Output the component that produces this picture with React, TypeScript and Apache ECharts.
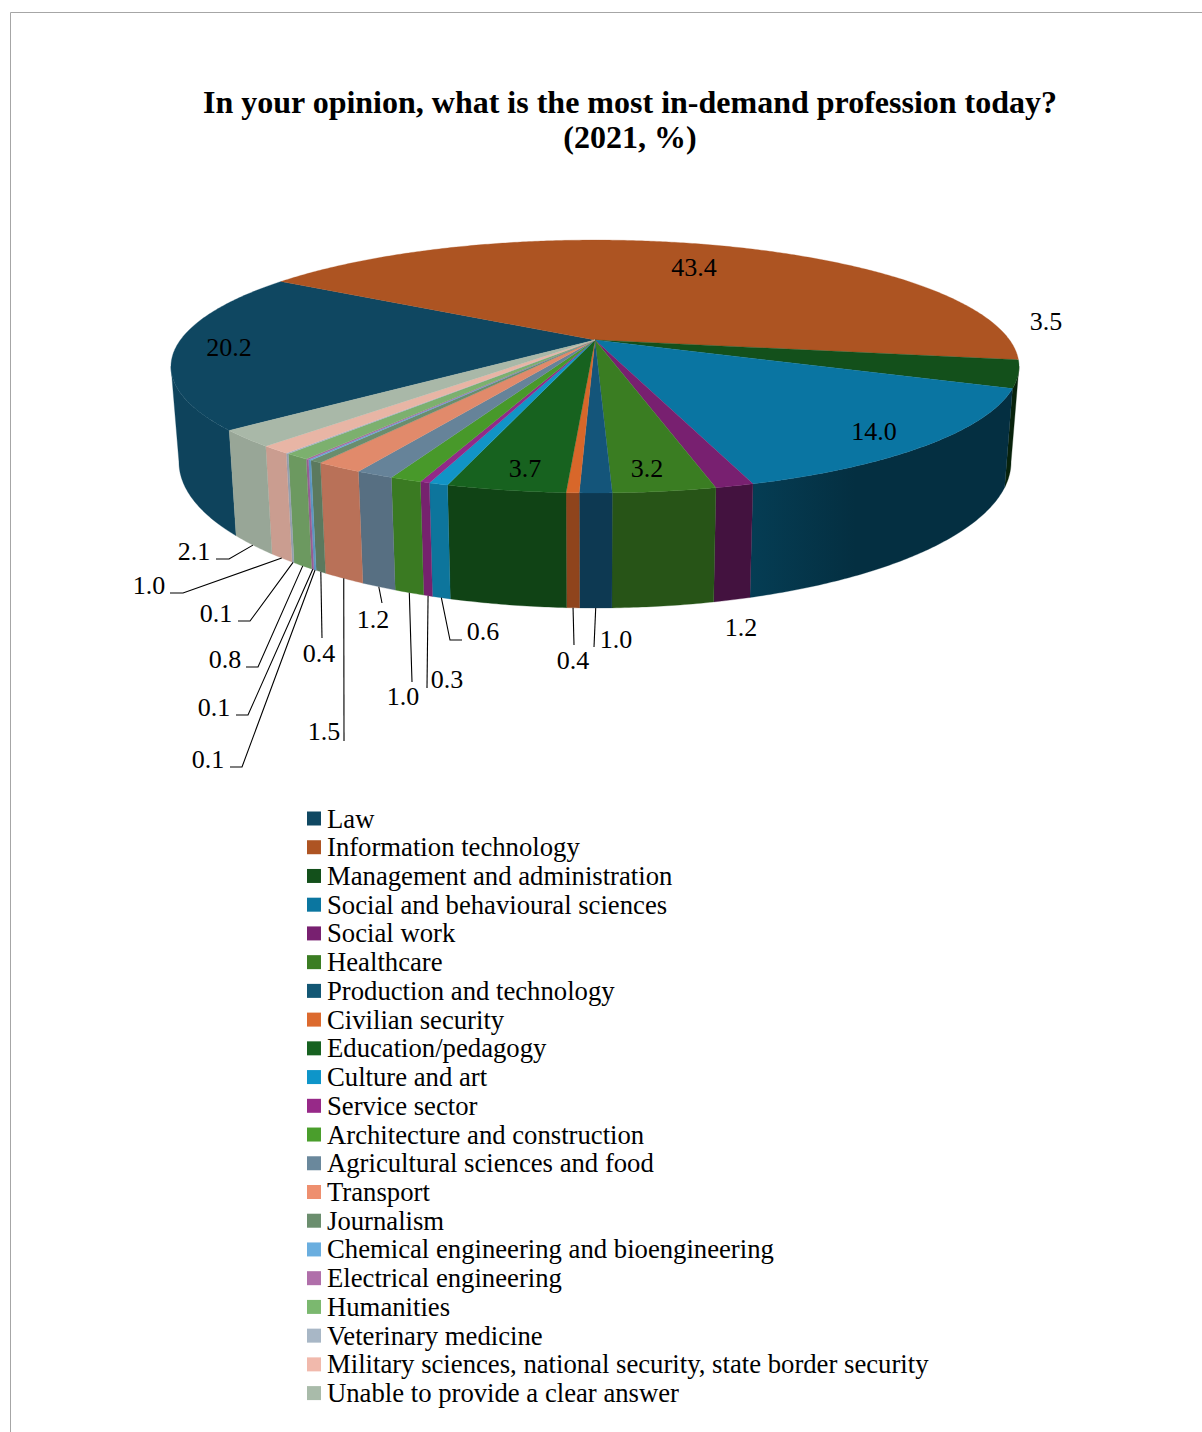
import React, { useEffect, useRef } from "react";
import * as echarts from "echarts";

const titleText = "In your opinion, what is the most in-demand profession today?\n(2021, %)";
const categories = [
  "Law", "Information technology", "Management and administration", "Social and behavioural sciences",
  "Social work", "Healthcare", "Production and technology", "Civilian security", "Education/pedagogy",
  "Culture and art", "Service sector", "Architecture and construction", "Agricultural sciences and food",
  "Transport", "Journalism", "Chemical engineering and bioengineering", "Electrical engineering",
  "Humanities", "Veterinary medicine", "Military sciences, national security, state border security",
  "Unable to provide a clear answer",
];
const values = [20.2, 43.4, 3.5, 14.0, 1.2, 3.2, 1.0, 0.4, 3.7, 0.6, 0.3, 1.0, 1.2, 1.5, 0.4, 0.1, 0.1, 0.8, 0.1, 1.0, 2.1];
const valueLabels = ["20.2", "43.4", "3.5", "14.0", "1.2", "3.2", "1.0", "0.4", "3.7", "0.6", "0.3", "1.0", "1.2", "1.5", "0.4", "0.1", "0.1", "0.8", "0.1", "1.0", "2.1"];
const legendColors = [
  "#104862", "#AE5423", "#13501B", "#0B76A0", "#782070", "#3B7D23", "#135774", "#DC6A2E", "#176221",
  "#0E95C9", "#972988", "#4A9E2C", "#6A889C", "#EE8F6F", "#6B8E6E", "#6AAEDF", "#B06FAA", "#7BB86F",
  "#A8B7C6", "#F1B9AC", "#A9BBAA",
];
const topColors = [
  "#0F4761", "#AD5422", "#13501B", "#0A75A2", "#782070", "#3A7D22", "#14557A", "#D8672A", "#17621F",
  "#1194C6", "#922A88", "#48992A", "#668399", "#E18A6B", "#6A8D6D", "#66A8D8", "#A868A4", "#7CB06E",
  "#A4B2C2", "#E8B5A5", "#A9B8A8",
];
// side-wall darkening of each slice at its left and right end on screen
const shadeLeft = [0.95, 0.5, 0.42, 0.52, 0.56, 0.67, 0.67, 0.66, 0.68, 0.79, 0.81, 0.8, 0.85, 0.82, 0.86, 0.9, 0.9, 0.87, 0.9, 0.87, 0.9];
const shadeRight = [0.95, 0.5, 0.42, 0.4, 0.56, 0.67, 0.67, 0.66, 0.68, 0.79, 0.81, 0.8, 0.85, 0.82, 0.86, 0.9, 0.9, 0.87, 0.9, 0.87, 0.9];

// label centres, and leader line vertices leading from the label towards its slice
const labelAt = [
  [229, 347.5], [694, 267.5], [1046, 321.5], [874, 431.5], [741, 627.5], [647, 468.5], [616, 639.5], [573, 660.5], [525, 468.5],
  [483, 631.5], [447, 679.5], [403, 696.5], [373, 619.5], [324, 731.5], [319, 653.5], [208, 759.5], [214, 707.5], [225, 659.5],
  [216, 613.5], [149, 585.5], [194, 551.5],
];
const leaders: (number[][] | null)[] = [
  null, null, null, null, null, null,
  [[594, 647]], [[574, 645]], null,
  [[462, 640], [450, 640]], [[427, 688]], [[412, 682]], [[382, 603]], [[344, 741]], [[322, 638]],
  [[230, 767], [242, 767]], [[236, 715], [248, 715]], [[246, 667], [258, 667]], [[238, 621], [250, 621]],
  [[170, 593], [183, 593]], [[216, 559], [229, 559]],
];

const FONT = "'Liberation Serif', 'Times New Roman', serif";
const FIRST_ANGLE = 229.7;
const K = 0.2095;
const CX = 595;
const TOP = { a: 414.6, b: 120.9, y0: 340 };
const BOTTOM = { a: 406.8, b: 139.6, y0: 431.4 };
const FRONT_START = 102;
const FRONT_END = 258;

const project = (deg: number, d: { a: number; b: number; y0: number }) => {
  const t = (deg * Math.PI) / 180;
  const u = Math.sin(t);
  const v = -Math.cos(t);
  const w = 1 - K * v;
  return [CX + (d.a * u) / w, d.y0 + (d.b * v) / w];
};
const arc = (from: number, to: number, d: { a: number; b: number; y0: number }) => {
  const pts: number[][] = [];
  const n = Math.max(1, Math.ceil((to - from) / 0.5));
  for (let i = 0; i <= n; i++) pts.push(project(from + ((to - from) * i) / n, d));
  return pts;
};
const shade = (hex: string, f: number) => {
  const n = parseInt(hex.slice(1), 16);
  const c = [(n >> 16) & 255, (n >> 8) & 255, n & 255].map((x) => Math.round(x * f));
  return `rgb(${c[0]},${c[1]},${c[2]})`;
};

const total = values.reduce((s, v) => s + v, 0);

const renderSlice = (i: number) => () => {
  const before = values.slice(0, i).reduce((s, v) => s + v, 0);
  const start = FIRST_ANGLE + (before / total) * 360;
  const end = start + (values[i] / total) * 360;
  const children: any[] = [];

  // side wall: only the part of the rim that faces the viewer
  for (const off of [0, 360, -360]) {
    const s = Math.max(start + off, FRONT_START);
    const e = Math.min(end + off, FRONT_END);
    if (e > s) {
      const pts = [...arc(s, e, TOP), ...arc(s, e, BOTTOM).reverse()];
      const isGrad = shadeLeft[i] !== shadeRight[i];
      const fill: any = isGrad
        ? new echarts.graphic.LinearGradient(0, 0, 1, 0, [
            { offset: 0, color: shade(topColors[i], shadeLeft[i]) },
            { offset: 0.4, color: shade(topColors[i], shadeRight[i]) },
            { offset: 1, color: shade(topColors[i], shadeRight[i]) },
          ])
        : shade(topColors[i], shadeLeft[i]);
      children.push({
        type: "polygon",
        z2: 1,
        shape: { points: pts },
        style: { fill, stroke: fill, lineWidth: 0.3 },
      });
    }
  }
  // top face
  children.push({
    type: "polygon",
    z2: 5,
    shape: { points: [[CX, TOP.y0], ...arc(start, end, TOP)] },
    style: { fill: topColors[i], stroke: topColors[i], lineWidth: 0.3 },
  });

  // leader line, ending on the rim below the slice's middle
  const lead = leaders[i];
  if (lead) {
    const rim = project((start + end) / 2, BOTTOM);
    children.push({
      type: "polyline",
      z2: 8,
      shape: { points: [...lead, rim] },
      style: { fill: "none", stroke: "#000", lineWidth: 1.1 },
    });
  }
  // value label
  children.push({
    type: "text",
    z2: 10,
    x: labelAt[i][0],
    y: labelAt[i][1],
    style: {
      text: valueLabels[i],
      fill: "#000",
      font: `26px ${FONT}`,
      align: "center",
      verticalAlign: "middle",
    },
  });
  return { type: "group", children };
};

export default function App() {
  const ref = useRef<HTMLDivElement>(null);
  useEffect(() => {
    const chart = echarts.init(ref.current!, undefined, { renderer: "svg" });
    chart.setOption({
      animation: false,
      backgroundColor: "#fff",
      color: legendColors,
      title: {
        text: titleText,
        left: 630,
        top: 84,
        textAlign: "center",
        padding: 0,
        textStyle: { fontFamily: FONT, fontWeight: "bold", fontSize: 32, lineHeight: 35, color: "#000" },
      },
      legend: {
        orient: "vertical",
        left: 307,
        top: 805,
        height: 620,
        padding: 0,
        icon: "rect",
        itemWidth: 14,
        itemHeight: 14,
        itemGap: 1.73,
        selectedMode: false,
        data: categories,
        textStyle: { fontFamily: FONT, fontSize: 26.7, color: "#000", padding: [0, 0, 0, 1] },
      },
      graphic: [
        { type: "line", shape: { x1: 10.5, y1: 12.5, x2: 1202, y2: 12.5 }, style: { stroke: "#a6a6a6", lineWidth: 1 } },
        { type: "line", shape: { x1: 10.5, y1: 12.5, x2: 10.5, y2: 1432 }, style: { stroke: "#a6a6a6", lineWidth: 1 } },
      ],
      series: categories.map((name, i) => ({
        type: "custom",
        name,
        coordinateSystem: "none",
        silent: true,
        itemStyle: { color: legendColors[i] },
        data: [[values[i]]],
        renderItem: renderSlice(i),
      })),
    });
    return () => chart.dispose();
  }, []);
  return <div ref={ref} style={{ position: "absolute", left: 0, top: 0, width: 1202, height: 1432 }} />;
}
